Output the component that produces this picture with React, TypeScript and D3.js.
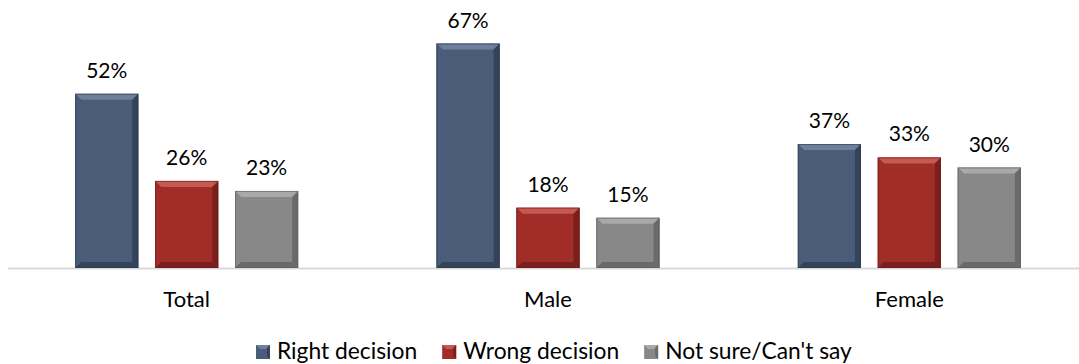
import React, { useRef, useEffect } from 'react';
import * as d3 from 'd3';

const categories = ['Total', 'Male', 'Female'];
const seriesNames = ['Right decision', 'Wrong decision', "Not sure/Can't say"];
const rightDecision = [52, 67, 37];
const wrongDecision = [26, 18, 33];
const notSure = [23, 15, 30];

const palette = [
  { face: '#4a5c78', light: '#6d7f9a', dark: '#34435a', edge: '#2c3a4f' },
  { face: '#a12d28', light: '#c45a52', dark: '#7a1f1b', edge: '#6a1a17' },
  { face: '#888888', light: '#a9a9a9', dark: '#6a6a6a', edge: '#5c5c5c' },
];

const W = 1079;
const H = 364;
const FONT = 'Lato, "Noto Sans", sans-serif';

export default function App() {
  const ref = useRef<SVGSVGElement>(null);

  useEffect(() => {
    const svg = d3.select(ref.current);
    svg.selectAll('*').remove();

    const series = [rightDecision, wrongDecision, notSure];
    const baseline = 268;

    const x = d3.scaleBand().domain(categories).range([6, 1090]).paddingInner(0).paddingOuter(0);
    const inner = d3.scaleBand().domain(seriesNames).range([0, 223]).paddingInner(0.21).paddingOuter(0);
    const y = d3.scaleLinear().domain([0, 100]).range([baseline, baseline - 335]);

    // axis line
    svg.append('line')
      .attr('x1', 8).attr('x2', W).attr('y1', baseline + 0.5).attr('y2', baseline + 0.5)
      .attr('stroke', '#d9d9d9').attr('stroke-width', 2);

    const bevel = 6;
    categories.forEach((cat, ci) => {
      const gx = x(cat)! + (x.bandwidth() - 223) / 2;
      seriesNames.forEach((s, si) => {
        const v = series[si][ci];
        const bx = gx + inner(s)!;
        const bw = inner.bandwidth();
        const by = y(v);
        const bh = baseline - by;
        const c = palette[si];
        const g = svg.append('g');
        g.append('rect').attr('x', bx).attr('y', by).attr('width', bw).attr('height', bh).attr('fill', c.face);
        const x0 = bx, x1 = bx + bw, y0 = by, y1 = baseline;
        const b = Math.min(bevel, bh / 2);
        const poly = (pts: number[][], fill: string) =>
          g.append('polygon').attr('points', pts.map(p => p.join(',')).join(' ')).attr('fill', fill);
        poly([[x0, y0], [x1, y0], [x1 - b, y0 + b], [x0 + b, y0 + b]], c.light);
        poly([[x0, y0], [x0 + b, y0 + b], [x0 + b, y1 - b], [x0, y1]], c.face);
        poly([[x1, y0], [x1, y1], [x1 - b, y1 - b], [x1 - b, y0 + b]], c.dark);
        poly([[x0, y1], [x0 + b, y1 - b], [x1 - b, y1 - b], [x1, y1]], c.dark);
        g.append('rect').attr('x', x0 + 0.5).attr('y', y0 + 0.5).attr('width', bw - 1).attr('height', bh - 1)
          .attr('fill', 'none').attr('stroke', c.edge).attr('stroke-opacity', 0.6);

        svg.append('text')
          .attr('x', bx + bw / 2).attr('y', by - 16)
          .attr('text-anchor', 'middle')
          .attr('font-family', FONT).attr('font-size', 21).attr('fill', '#000')
          .text(`${v}%`);
      });

      svg.append('text')
        .attr('x', x(cat)! + x.bandwidth() / 2).attr('y', 307)
        .attr('text-anchor', 'middle')
        .attr('font-family', FONT).attr('font-size', 22).attr('fill', '#000')
        .text(cat);
    });

    // legend
    let lx = 256;
    const m = 14;
    const my = 345;
    seriesNames.forEach((s, si) => {
      const c = palette[si];
      svg.append('rect').attr('x', lx).attr('y', my).attr('width', m).attr('height', m).attr('fill', c.face);
      svg.append('polygon')
        .attr('points', `${lx},${my} ${lx + m},${my} ${lx + m - 4},${my + 4} ${lx + 4},${my + 4}`).attr('fill', c.light);
      svg.append('polygon')
        .attr('points', `${lx + m},${my} ${lx + m},${my + m} ${lx + m - 3},${my + m - 3} ${lx + m - 3},${my + 3}`).attr('fill', c.dark);
      const t = svg.append('text')
        .attr('x', lx + 21).attr('y', 358.5)
        .attr('font-family', FONT).attr('font-size', 22.8).attr('fill', '#000')
        .text(s);
      const tw = (t.node() as SVGTextElement).getComputedTextLength();
      lx += 21 + tw + 25;
    });
  }, []);

  return (
    <svg ref={ref} width={W} height={H} style={{ display: 'block', position: 'absolute', left: 0, top: 0 }} />
  );
}
